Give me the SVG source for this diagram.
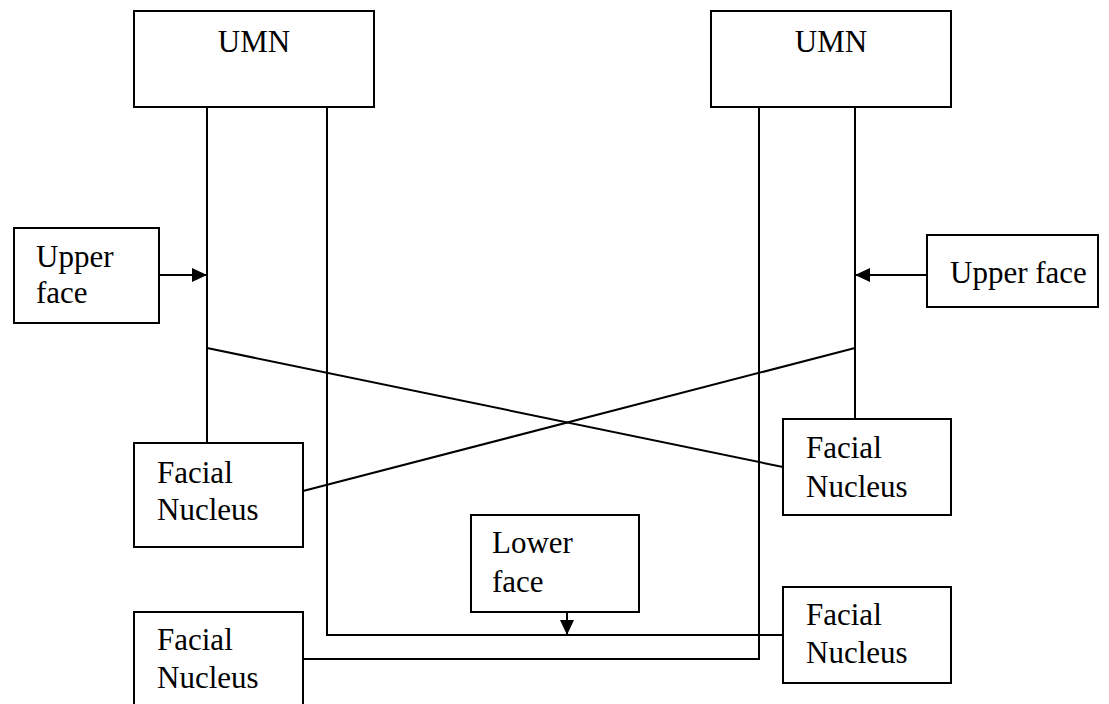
<svg xmlns="http://www.w3.org/2000/svg" width="1109" height="704" viewBox="0 0 1109 704">
<style>
.box{fill:#fff;stroke:#000;stroke-width:2}
.ln{fill:none;stroke:#000;stroke-width:2}
text{font-family:"Liberation Serif","Times New Roman",serif;font-size:31px;fill:#000}
</style>
<defs>
<marker id="arr" viewBox="0 0 15 14" refX="15" refY="7" markerWidth="15" markerHeight="14" markerUnits="userSpaceOnUse" orient="auto">
<path d="M0,0 L15,7 L0,14 Z" fill="#000"/>
</marker>
</defs>
<rect width="1109" height="704" fill="#fff"/>
<g id="connectors">
<path class="ln" d="M207,107 V443"/>
<path class="ln" d="M327,107 V635 H783"/>
<path class="ln" d="M759,107 V659 H303"/>
<path class="ln" d="M855,107 V419"/>
<path class="ln" d="M207,348 L783,467"/>
<path class="ln" d="M855,348 L303,491"/>
<path class="ln" d="M159,275 H207" marker-end="url(#arr)"/>
<path class="ln" d="M927,275 H855" marker-end="url(#arr)"/>
<path class="ln" d="M567,612 V635" marker-end="url(#arr)"/>
</g>
<g id="umn-left"><rect class="box" x="134" y="11" width="240" height="96"/><text x="254" y="52" text-anchor="middle">UMN</text></g>
<g id="umn-right"><rect class="box" x="711" y="11" width="240" height="96"/><text x="831" y="52" text-anchor="middle">UMN</text></g>
<g id="upper-face-left"><rect class="box" x="14" y="228" width="145" height="95"/><text x="36" y="267">Upper</text><text x="36" y="303">face</text></g>
<g id="upper-face-right"><rect class="box" x="927" y="235" width="171" height="72"/><text x="950" y="283">Upper face</text></g>
<g id="facial-nucleus-1"><rect class="box" x="134" y="443" width="169" height="104"/><text x="157" y="483">Facial</text><text x="157" y="520">Nucleus</text></g>
<g id="facial-nucleus-2"><rect class="box" x="783" y="419" width="168" height="96"/><text x="806" y="458">Facial</text><text x="806" y="497">Nucleus</text></g>
<g id="lower-face"><rect class="box" x="471" y="515" width="168" height="97"/><text x="492" y="553">Lower</text><text x="492" y="592">face</text></g>
<g id="facial-nucleus-3"><rect class="box" x="134" y="612" width="169" height="100"/><text x="157" y="650">Facial</text><text x="157" y="688">Nucleus</text></g>
<g id="facial-nucleus-4"><rect class="box" x="783" y="587" width="168" height="96"/><text x="806" y="625">Facial</text><text x="806" y="663">Nucleus</text></g>
</svg>
